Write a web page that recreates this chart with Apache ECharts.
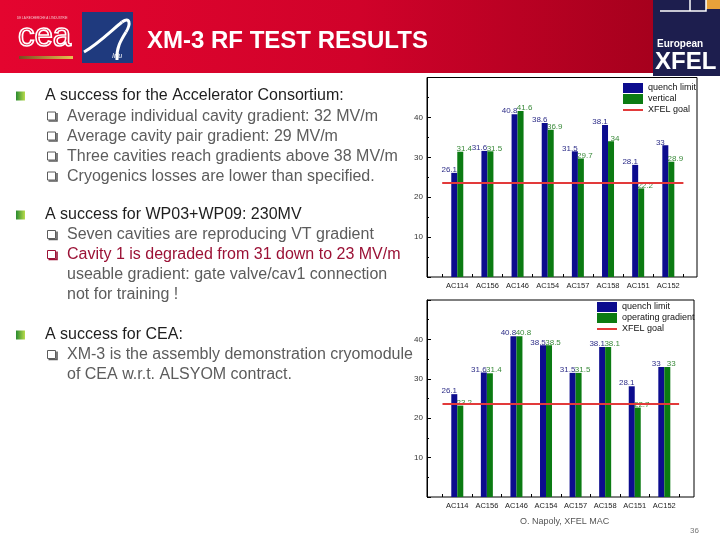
<!DOCTYPE html>
<html><head><meta charset="utf-8">
<script src="https://cdn.jsdelivr.net/npm/echarts@6/dist/echarts.min.js"></script>
<style>html,body{margin:0;padding:0;background:#fff}#c{width:720px;height:540px}</style>
</head><body><div id="c"></div>
<script>
// ---- data ----
const categories1 = ['AC114','AC156','AC146','AC154','AC157','AC158','AC151','AC152'];
const quench1     = [26.1, 31.6, 40.8, 38.6, 31.5, 38.1, 28.1, 33];
const vertical1   = [31.4, 31.5, 41.6, 36.9, 29.7, 34, 22.2, 28.9];
const categories2 = ['AC114','AC156','AC146','AC154','AC157','AC158','AC151','AC152'];
const quench2     = [26.1, 31.6, 40.8, 38.5, 31.5, 38.1, 28.1, 33];
const operating2  = [23.2, 31.4, 40.8, 38.5, 31.5, 38.1, 22.7, 33];
const xfelGoal = 23.6;
const yMin = 0, yMax = 50, yStep = 10;

const FONT = '"Liberation Sans", Arial, sans-serif';
const BLUE = '#0c0c8e', GREEN = '#0b7b12', RED = '#e23a3a';

const chart = echarts.init(document.getElementById('c'), null, {renderer: 'canvas'});

function frameY(gi) {
  return {gridIndex: gi, type: 'value', min: yMin, max: yMax, interval: yStep,
    axisLine: {show: true, lineStyle: {color: '#000', width: 1}},
    axisTick: {show: true, inside: true, length: 4, lineStyle: {color: '#000'}},
    minorTick: {show: true, splitNumber: 2, length: 2, lineStyle: {color: '#000'}},
    splitLine: {show: false},
    axisLabel: {fontSize: 8, color: '#333', margin: 4, fontFamily: FONT, showMinLabel: false, showMaxLabel: false}};
}
function hiddenY(gi) { return {gridIndex: gi, type: 'value', min: yMin, max: yMax, show: false}; }
function hiddenX(gi) { return {gridIndex: gi, type: 'value', min: 0, max: 1, show: false}; }
function catX(gi, cats) {
  return {gridIndex: gi, type: 'category', data: cats,
    axisLine: {show: false},
    axisTick: {show: true, inside: true, length: 3, interval: 0, lineStyle: {color: '#000'}},
    axisLabel: {fontSize: 7.5, color: '#222', margin: 5, interval: 0, fontFamily: FONT}};
}
function barSeries(name, xi, data, color, lblColor, dx) {
  return {name, type: 'bar', xAxisIndex: xi, yAxisIndex: xi, data,
    barWidth: 6, barGap: '0%', itemStyle: {color},
    label: {show: true, position: 'top', distance: 0, offset: [dx, 1], fontSize: 8, color: lblColor, fontFamily: FONT},
    silent: true, animation: false};
}
function goalSeries(xi) {
  return {name: 'XFEL goal', type: 'line', xAxisIndex: xi, yAxisIndex: xi, data: [],
    symbol: 'none', itemStyle: {color: RED}, lineStyle: {color: RED, width: 2}, z: 5,
    markLine: {silent: true, symbol: 'none', label: {show: false},
      lineStyle: {color: RED, width: 2, type: 'solid'}, data: [{yAxis: xfelGoal}]},
    animation: false};
}
function legend(left, top, names) {
  return {orient: 'vertical', left, top, padding: 0, itemGap: 1, itemWidth: 20, itemHeight: 10,
    textStyle: {fontSize: 9, color: '#111', fontFamily: FONT, lineHeight: 10},
    selectedMode: false,
    data: [{name: names[0], icon: 'rect'}, {name: names[1], icon: 'rect'},
           {name: names[2], icon: 'path://M0,0H20V2H0Z', itemStyle: {color: RED, borderWidth: 0}}]};
}

// slide decorations
const g = [];
g.push({type: 'rect', shape: {x: 0, y: 0, width: 655, height: 73}, silent: true,
  style: {fill: {type: 'linear', x: 0, y: 0, x2: 1, y2: 0, colorStops: [
    {offset: 0, color: '#e4052f'}, {offset: 0.55, color: '#d0022a'}, {offset: 1, color: '#a6001d'}]}}});
g.push({type: 'rect', shape: {x: 653, y: 0, width: 67, height: 76}, silent: true, style: {fill: '#1d1e4e'}});
g.push({type: 'rect', shape: {x: 706, y: 0, width: 14, height: 9}, silent: true, style: {fill: '#e8a13a'}});
g.push({type: 'polyline', shape: {points: [[660, 11], [706, 11], [706, 0]]}, silent: true, style: {stroke: '#fff', lineWidth: 1.5, fill: null}});
g.push({type: 'polyline', shape: {points: [[690, 0], [690, 11]]}, silent: true, style: {stroke: '#fff', lineWidth: 1.5}});
g.push({type: 'text', x: 657, y: 44, silent: true, style: {text: 'European', fill: '#fff', font: 'bold 10px ' + FONT, verticalAlign: 'middle'}});
g.push({type: 'text', x: 655, y: 62, silent: true, style: {text: 'XFEL', fill: '#fff', font: 'bold 24px ' + FONT, verticalAlign: 'middle'}});
// cea logo
g.push({type: 'text', x: 17, y: 18, silent: true, style: {text: 'DE LA RECHERCHE À L\u2019INDUSTRIE', fill: '#f4c8cf', font: '3px ' + FONT, verticalAlign: 'middle'}});
g.push({type: 'text', x: 18, y: 37, silent: true, style: {text: 'cea', fill: 'rgba(0,0,0,0)', stroke: '#fff', lineWidth: 1.6, font: '33px ' + FONT, verticalAlign: 'middle'}});
g.push({type: 'rect', shape: {x: 19, y: 56, width: 54, height: 3}, silent: true,
  style: {fill: {type: 'linear', x: 0, y: 0, x2: 1, y2: 0, colorStops: [{offset: 0, color: '#7a4a20'}, {offset: 1, color: '#e8c050'}]}}});
// irfu logo
g.push({type: 'rect', shape: {x: 82, y: 12, width: 51, height: 51}, silent: true, style: {fill: '#1f3a7e'}});
const swoosh = [
  [84, 52, 98, 44, 112, 30, 122, 22],
  [122, 22, 130, 16, 131, 24, 126, 32],
  [126, 32, 121, 40, 116, 48, 117, 60]
];
swoosh.forEach(s => g.push({type: 'bezierCurve', silent: true,
  shape: {x1: s[0], y1: s[1], cpx1: s[2], cpy1: s[3], cpx2: s[4], cpy2: s[5], x2: s[6], y2: s[7]},
  style: {fill: null, stroke: '#fff', lineWidth: 3}}));
g.push({type: 'text', x: 112, y: 56, silent: true, style: {text: 'Irfu', fill: '#fff', font: 'italic 7px ' + FONT, verticalAlign: 'middle'}});
// title
g.push({type: 'text', x: 147, y: 41, silent: true, style: {text: 'XM-3 RF TEST RESULTS', fill: '#fff', font: 'bold 24px ' + FONT, verticalAlign: 'middle'}});

// bullets
const mainColor = '#1e1e1e', subColor = '#5c5c5c', redColor = '#9b1236';
function mainBullet(y, text) {
  g.push({type: 'rect', shape: {x: 16, y: y - 4.5, width: 9, height: 9}, silent: true,
    style: {fill: {type: 'linear', x: 0, y: 0, x2: 1, y2: 0, colorStops: [{offset: 0, color: '#2a8a30'}, {offset: 1, color: '#b8dc4c'}]}}});
  g.push({type: 'text', x: 45, y, silent: true, style: {text, fill: mainColor, font: '16px ' + FONT, verticalAlign: 'middle'}});
}
function subBullet(y, text, color, box) {
  if (box) {
    g.push({type: 'rect', shape: {x: 47.5, y: y - 4.5, width: 8, height: 8}, silent: true, style: {fill: '#fff', stroke: color, lineWidth: 1}});
    g.push({type: 'polyline', shape: {points: [[57, y - 3.5], [57, y + 4.5], [48.5, y + 4.5]]}, silent: true, style: {stroke: color, lineWidth: 1.6, fill: null}});
  }
  g.push({type: 'text', x: 67, y, silent: true, style: {text, fill: color, font: '16px ' + FONT, verticalAlign: 'middle'}});
}
mainBullet(96, 'A success for the Accelerator Consortium:');
subBullet(116.5, 'Average individual cavity gradient: 32 MV/m', subColor, true);
subBullet(136.5, 'Average cavity pair gradient: 29 MV/m', subColor, true);
subBullet(156.5, 'Three cavities reach gradients above 38 MV/m', subColor, true);
subBullet(176.5, 'Cryogenics losses are lower than specified.', subColor, true);
mainBullet(215, 'A success for WP03+WP09: 230MV');
subBullet(235, 'Seven cavities are reproducing VT gradient', subColor, true);
subBullet(255, 'Cavity 1 is degraded from 31 down to 23 MV/m', redColor, true);
subBullet(275, 'useable gradient: gate valve/cav1 connection', subColor, false);
subBullet(295, 'not for training !', subColor, false);
mainBullet(335, 'A success for CEA:');
subBullet(355, 'XM-3 is the assembly demonstration cryomodule', subColor, true);
subBullet(375, 'of CEA w.r.t. ALSYOM contract.', subColor, false);
// footer
g.push({type: 'text', x: 520, y: 522, silent: true, style: {text: 'O. Napoly, XFEL MAC', fill: '#555', font: '9px ' + FONT, verticalAlign: 'middle'}});
g.push({type: 'text', x: 690, y: 531, silent: true, style: {text: '36', fill: '#777', font: '8px ' + FONT, verticalAlign: 'middle'}});

const option = {
  animation: false,
  backgroundColor: '#fff',
  textStyle: {fontFamily: FONT},
  grid: [
    {left: 427, top: 77.5, width: 270, height: 199.5, show: true, borderColor: '#000', borderWidth: 1, backgroundColor: 'rgba(0,0,0,0)'},
    {left: 442.2, top: 77.5, width: 241.2, height: 199.5},
    {left: 427, top: 300, width: 267, height: 197, show: true, borderColor: '#000', borderWidth: 1, backgroundColor: 'rgba(0,0,0,0)'},
    {left: 442.5, top: 300, width: 236.6, height: 197}
  ],
  xAxis: [hiddenX(0), catX(1, categories1), hiddenX(2), catX(3, categories2)],
  yAxis: [frameY(0), hiddenY(1), frameY(2), hiddenY(3)],
  legend: [legend(623, 83, ['quench limit', 'vertical', 'XFEL goal']),
           legend(597, 302, ['quench limit', 'operating gradient', 'XFEL goal'])],
  series: [
    barSeries('quench limit', 1, quench1, BLUE, '#2e2e88', -5),
    barSeries('vertical', 1, vertical1, GREEN, '#3a8a3a', 4),
    goalSeries(1),
    barSeries('quench limit', 3, quench2, BLUE, '#2e2e88', -5),
    barSeries('operating gradient', 3, operating2, GREEN, '#3a8a3a', 4),
    goalSeries(3)
  ],
  graphic: {elements: g}
};
chart.setOption(option);
</script></body></html>
